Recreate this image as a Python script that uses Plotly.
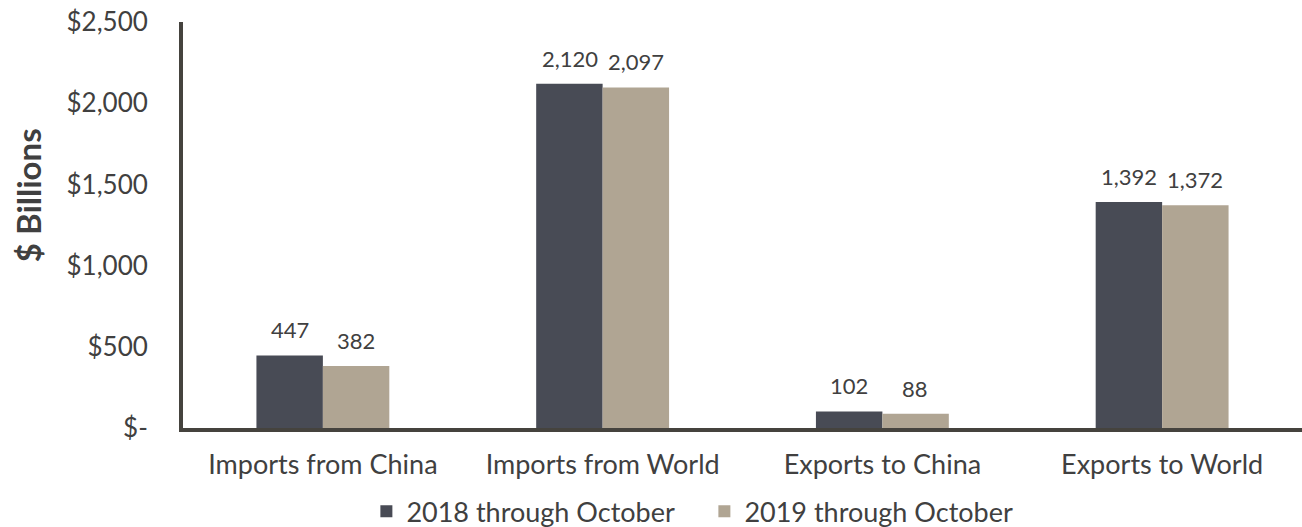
import plotly.graph_objects as go

categories = ["Imports from China", "Imports from World", "Exports to China", "Exports to World"]
series_names = ["2018 through October", "2019 through October"]
values_2018 = [447, 2120, 102, 1392]
values_2019 = [382, 2097, 88, 1372]
tick_vals = [0, 500, 1000, 1500, 2000, 2500]
tick_text = ["$-", "$500", "$1,000", "$1,500", "$2,000", "$2,500"]
y_title = "$ Billions"

colors = ["#484B55", "#B0A593"]
font_family = "Lato, 'Open Sans', sans-serif"
text_color = "#404040"

fig = go.Figure()
for name, vals, col in zip(series_names, [values_2018, values_2019], colors):
    fig.add_trace(go.Bar(
        x=categories, y=vals, name=name,
        marker=dict(color=col, line=dict(width=0)),
    ))

annotations = []
for i, (vals, shift) in enumerate([(values_2018, -33), (values_2019, 33)]):
    for c, v in zip(categories, vals):
        annotations.append(dict(
            x=c, y=v, xref="x", yref="y", text=f"{v:,}", showarrow=False,
            xshift=shift, yshift=10, yanchor="bottom",
            font=dict(family=font_family, size=22, color=text_color),
        ))

annotations.append(dict(
    x=0, y=0.5735, xref="paper", yref="paper", text=f"<b>{y_title}</b>",
    showarrow=False, textangle=-90, xanchor="center", yanchor="middle",
    xshift=-155, font=dict(family=font_family, size=33, color=text_color),
))

fig.update_layout(
    width=1302, height=527,
    margin=dict(l=183, r=0, t=22, b=99, autoexpand=False),
    paper_bgcolor="white", plot_bgcolor="white",
    barmode="group", bargap=0.525, bargroupgap=0,
    font=dict(family=font_family, size=26, color=text_color),
    annotations=annotations,
    showlegend=True,
    legend=dict(orientation="h", x=0.541, xref="container", xanchor="center",
                y=0.029, yref="container", yanchor="middle",
                font=dict(size=27, color=text_color), traceorder="normal",
                itemwidth=30, entrywidth=293),
    xaxis=dict(showline=True, linewidth=4, linecolor="#45433E", showgrid=False,
               ticks="", tickfont=dict(size=27, color=text_color), ticklabelstandoff=10),
    yaxis=dict(range=[0, 2500], tickvals=tick_vals, ticktext=tick_text,
               showline=True, linewidth=4, linecolor="#45433E", showgrid=False,
               zeroline=False, ticks="", ticklabelstandoff=26, ticklabeloverflow="allow",
               tickfont=dict(size=26, color=text_color)),
)

fig.write_html("out.html", config={"displayModeBar": False},
               post_script="document.body.style.margin='0';")
